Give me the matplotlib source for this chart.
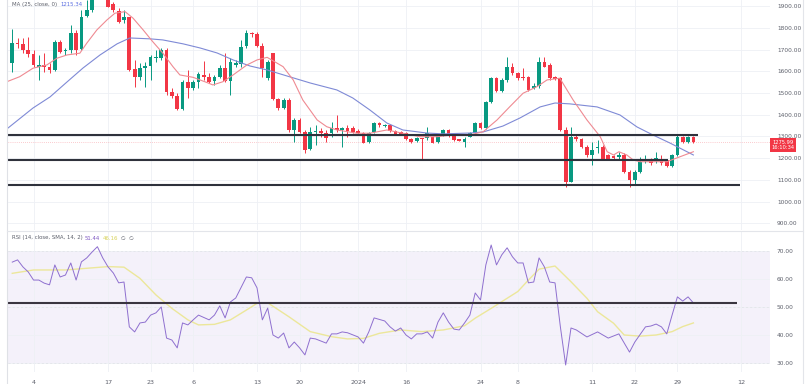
import matplotlib
matplotlib.use("Agg")
import matplotlib.pyplot as plt
import matplotlib.transforms as mtransforms
import numpy as np

W, H = 807, 384

# daily candles (prices)
opens = [1637, 1729, 1724, 1698, 1680, 1621, 1629, 1621, 1606, 1736,
         1693, 1698, 1775, 1701, 1854, 1882, 1935, 1985, 1945, 1910,
         1877, 1836, 1848, 1609, 1575, 1615, 1624, 1660, 1660, 1698,
         1506, 1488, 1425, 1552, 1522, 1552, 1583, 1575, 1555, 1575,
         1614, 1555, 1629, 1632, 1716, 1775, 1772, 1716, 1568, 1683,
         1471, 1430, 1468, 1330, 1376, 1322, 1241, 1322, 1325, 1315,
         1315, 1338, 1330, 1338, 1338, 1325, 1315, 1276, 1322, 1361,
         1350, 1353, 1327, 1322, 1315, 1287, 1280, 1292, 1292, 1296,
         1276, 1307, 1330, 1307, 1287, 1276, 1299, 1315, 1361, 1338,
         1460, 1568, 1511, 1560, 1621, 1591, 1575, 1575, 1522, 1530,
         1644, 1629, 1572, 1568, 1330, 1093, 1299, 1287, 1253, 1215,
         1246, 1253, 1215, 1210, 1207, 1215, 1138, 1100, 1138, 1186,
         1186, 1192, 1192, 1192, 1165, 1215, 1296, 1276, 1296]
highs = [1793, 1752, 1752, 1759, 1698, 1675, 1683, 1637, 1744, 1744,
         1706, 1813, 1790, 1882, 1928, 1950, 2000, 2010, 1955, 1920,
         1890, 1882, 1850, 1652, 1637, 1644, 1675, 1698, 1706, 1706,
         1522, 1499, 1560, 1606, 1560, 1598, 1649, 1591, 1583, 1629,
         1683, 1660, 1652, 1744, 1790, 1782, 1782, 1729, 1652, 1685,
         1475, 1475, 1475, 1384, 1385, 1330, 1345, 1353, 1338, 1330,
         1368, 1399, 1345, 1353, 1348, 1335, 1322, 1322, 1365, 1365,
         1358, 1358, 1332, 1327, 1320, 1292, 1296, 1295, 1345, 1300,
         1312, 1335, 1336, 1310, 1290, 1299, 1320, 1365, 1365, 1465,
         1575, 1575, 1568, 1667, 1637, 1598, 1614, 1580, 1545, 1667,
         1667, 1637, 1578, 1572, 1345, 1345, 1305, 1292, 1261, 1276,
         1284, 1261, 1220, 1215, 1230, 1223, 1146, 1146, 1207, 1215,
         1200, 1230, 1215, 1195, 1220, 1305, 1300, 1300, 1300]
lows = [1598, 1706, 1683, 1667, 1621, 1560, 1598, 1591, 1603, 1683,
        1675, 1683, 1675, 1698, 1851, 1874, 1930, 1940, 1894, 1874,
        1821, 1821, 1603, 1526, 1560, 1526, 1560, 1644, 1652, 1491,
        1476, 1422, 1422, 1476, 1514, 1522, 1560, 1545, 1537, 1568,
        1552, 1491, 1621, 1621, 1706, 1759, 1713, 1575, 1560, 1468,
        1422, 1425, 1322, 1276, 1315, 1223, 1238, 1261, 1299, 1276,
        1299, 1322, 1253, 1299, 1315, 1312, 1268, 1272, 1318, 1345,
        1345, 1322, 1307, 1307, 1284, 1272, 1276, 1192, 1284, 1268,
        1272, 1304, 1298, 1280, 1278, 1253, 1296, 1312, 1335, 1335,
        1455, 1505, 1505, 1552, 1585, 1560, 1562, 1510, 1518, 1522,
        1618, 1562, 1560, 1325, 1070, 1090, 1280, 1248, 1207, 1169,
        1223, 1192, 1190, 1195, 1195, 1131, 1070, 1077, 1131, 1177,
        1169, 1180, 1169, 1160, 1160, 1210, 1272, 1272, 1272]
closes = [1729, 1724, 1698, 1680, 1629, 1629, 1621, 1606, 1736, 1690,
          1698, 1775, 1698, 1851, 1882, 1935, 1985, 1950, 1897, 1882,
          1828, 1848, 1606, 1575, 1614, 1624, 1664, 1664, 1698, 1506,
          1488, 1425, 1552, 1522, 1552, 1588, 1575, 1552, 1575, 1617,
          1555, 1644, 1637, 1713, 1775, 1769, 1716, 1614, 1644, 1471,
          1430, 1468, 1330, 1376, 1322, 1238, 1322, 1325, 1315, 1292,
          1338, 1330, 1338, 1327, 1322, 1315, 1272, 1318, 1361, 1353,
          1353, 1327, 1312, 1312, 1287, 1276, 1292, 1287, 1315, 1272,
          1307, 1330, 1302, 1284, 1281, 1287, 1315, 1361, 1338, 1460,
          1568, 1511, 1560, 1621, 1591, 1568, 1568, 1514, 1530, 1644,
          1621, 1568, 1566, 1330, 1093, 1299, 1287, 1253, 1215, 1238,
          1253, 1195, 1195, 1200, 1215, 1138, 1100, 1138, 1184, 1195,
          1180, 1200, 1177, 1165, 1215, 1299, 1276, 1296, 1276]

# short moving average (red) and MA 25 (blue), sampled at candle index
ma_fast_idx = [-1, 1.4, 3.9, 6.5, 8.4, 10.3, 12.7, 14, 15.9, 17.8, 19.3, 21.2,
               22.7, 24.6, 26.4, 28.3, 30.2, 31.5, 34, 36.6, 37.7, 39.6, 41.5,
               44.1, 46, 47.9, 50.9, 52.8, 54.6, 57.3, 59.1, 61, 64.8, 67.2,
               70.4, 73.4, 76.6, 79.8, 82.8, 86, 88.5, 91.1, 93.5, 96, 98.6,
               100.5, 102.9, 105.4, 108, 110.5, 111.8, 113, 114, 115.5, 116.7,
               118, 123, 125.5, 128]
ma_fast_val = [1552, 1575, 1614, 1629, 1660, 1675, 1683, 1729, 1790, 1836, 1867, 1874,
               1844, 1790, 1736, 1683, 1621, 1583, 1572, 1548, 1537, 1552, 1583,
               1629, 1652, 1664, 1621, 1560, 1468, 1376, 1345, 1330, 1315, 1315,
               1330, 1315, 1299, 1299, 1307, 1307, 1322, 1376, 1437, 1499, 1529,
               1560, 1568, 1468, 1376, 1299, 1230, 1215, 1230, 1215, 1192,
               1184, 1184, 1207, 1230]
ma_slow_idx = [-1, 3.9, 7.1, 10.3, 13.3, 16.5, 19.7, 22.1, 25.9, 28.3, 32.1, 35.3,
               38.5, 41.5, 44.7, 47.9, 52.2, 56, 61, 64, 67.2, 70.4, 73.4, 77.9,
               81, 86, 88.5, 92.2, 95.4, 99.2, 102, 104.8, 109.9, 114.2, 117.4,
               120.4, 123.6, 128]
ma_slow_val = [1335, 1431, 1482, 1551, 1615, 1675, 1726, 1753, 1749, 1744, 1726, 1707,
               1684, 1652, 1624, 1606, 1574, 1546, 1514, 1477, 1422, 1362, 1330, 1316,
               1312, 1316, 1321, 1348, 1385, 1436, 1454, 1450, 1436, 1399, 1344,
               1307, 1270, 1215]

# RSI (14) and its SMA (14)
rsi_idx = [0, 1, 2, 3, 4, 5, 6, 7, 8, 9, 10, 11, 12, 13, 14, 15, 16, 17, 18, 19,
           20, 21, 22, 23, 24, 25, 26, 27, 28, 29, 30, 31, 32, 33, 34, 35, 37, 38,
           39, 40, 41, 42, 44, 45, 46, 47, 48, 49, 50, 51, 52, 53, 54, 55, 56, 57,
           59, 60, 61, 62, 63, 65, 66, 67, 68, 70, 71, 72, 73, 74, 75, 76, 77, 78,
           79, 80, 81, 82, 83, 84, 85, 86, 87, 88, 89, 90, 91, 92, 93, 94, 95, 96,
           97, 98, 99, 100, 101, 102, 103, 104, 105, 106, 108, 110, 112, 114, 116,
           117, 119, 120, 121, 122, 123, 124, 125, 126, 127, 128]
rsi_val = [66, 66.8, 64.3, 62.5, 59.6, 59.6, 58.5, 57.9, 65, 60.7, 61.4, 65.7,
           59.6, 66.1, 67.5, 69.6, 71.5, 67.5, 64.3, 62.1, 58.6, 58.9, 42.9, 41.1,
           44.3, 44.6, 47.1, 47.9, 50, 38.9, 38.2, 35.4, 44.3, 43.6, 45.4, 47.1,
           45.4, 47.1, 50.4, 46.1, 51.8, 53.2, 60.7, 60.4, 56.8, 45.4, 49.6, 40,
           38.9, 40.7, 35.4, 37.5, 35.4, 32.9, 38.9, 38.6, 37.1, 40.4, 40.4, 41.1,
           40.8, 39.3, 37.1, 41.1, 46.1, 45, 42.9, 41.4, 42.5, 40, 38.6, 40.4, 40.4,
           41.1, 38.9, 44.6, 47.9, 44.6, 42.1, 41.8, 44.3, 47.1, 55, 52.5, 65, 72.1,
           65, 68.6, 71.1, 67.9, 65.7, 65.7, 58.6, 58.9, 67.5, 64.3, 58.9, 58.6, 43,
           29.3, 42.5, 41.8, 39.3, 41.1, 38.9, 40.4, 33.9, 37.5, 42.9, 43.2, 43.9,
           42.9, 40.4, 47.1, 53.6, 52.1, 53.6, 51.44]
sig_idx = [0, 4, 10, 14, 18, 21, 24, 27, 30, 33, 35, 38, 41, 44, 46, 48, 52, 56,
           60, 63, 66, 69, 73, 77, 81, 85, 87, 90, 92, 95, 97, 99, 102, 105, 108,
           110, 113, 115, 118, 121, 124, 126, 128]
sig_val = [62, 63.2, 63.2, 63.8, 64.4, 64.2, 60.2, 54.3, 49.5, 45.4, 43.6, 43.8,
           45.4, 48.9, 51.3, 51.5, 46.5, 41.2, 39.4, 38.6, 38.8, 40.6, 41.8, 41.2,
           41.8, 43.3, 46, 49.5, 51.9, 55.5, 59.6, 63.5, 64.6, 59, 53.1, 48.3,
           44.2, 40, 39.6, 40, 41.2, 43, 44.3]

# drawn horizontal levels
levels = [1309, 1190, 1075]
level_ends = [128.9, 123.3, 136.8]
rsi_level = 51.5
rsi_level_end = 136.2

last_price = 1275.99
last_time = "16:10:34"
ma_value = "1215.34"
rsi_value = "51.44"
sig_value = "46.16"

price_ticks = [900, 1000, 1100, 1200, 1300, 1400, 1500, 1600, 1700, 1800, 1900]
rsi_ticks = [30, 40, 50, 60, 70]
date_ticks = [4, 18, 26, 34, 46, 54, 65, 74, 88, 95, 109, 117, 125, 137]
date_labels = ["4", "17", "23", "6", "13", "20", "2024", "16", "24", "8",
               "11", "22", "29", "12"]

GREEN = "#089981"
RED = "#f23645"
GRID = "#eef0f5"
TXT = "#5d606b"


def fx(x):
    return x / W


def fy(y):
    return 1 - y / H


def main():
    fig = plt.figure(figsize=(W / 100, H / 100), dpi=100)
    fig.patch.set_facecolor("white")

    ax = fig.add_axes([fx(8), fy(230), (770 - 8) / W, 230 / H])
    ax2 = fig.add_axes([fx(8), fy(372), (770 - 8) / W, (372 - 231) / H])
    xlim = (-0.8, 142.4)

    # ---- price pane
    idx = np.arange(len(opens))
    o = np.array(opens)
    c = np.array(closes)
    cols = np.where(c >= o, GREEN, RED)
    ax.vlines(idx, lows, highs, colors=cols, lw=0.7, zorder=3)
    ax.bar(idx, np.maximum(np.abs(c - o), 3), bottom=np.minimum(o, c),
           width=0.7, color=cols, lw=0, zorder=4)

    ax.plot(ma_slow_idx, ma_slow_val, color="#7f8ad6", lw=0.8, zorder=5)
    ax.plot(ma_fast_idx, ma_fast_val, color="#ef8a92", lw=0.8, zorder=5)

    for lv, end in zip(levels, level_ends):
        ax.hlines(lv, xlim[0], end, color="#2f323c", lw=1.5, zorder=6)
    ax.axhline(last_price, color=RED, lw=0.5, ls=(0, (1, 2)), alpha=0.5, zorder=2)

    ax.set_xlim(*xlim)
    ax.set_ylim(870.1, 1927.6)
    ax.set_yticks(price_ticks)
    ax.set_yticklabels([f"{v:.2f}" for v in price_ticks])
    ax.set_xticks(date_ticks)
    ax.yaxis.tick_right()
    ax.tick_params(axis="y", length=0, pad=5, labelsize=4.2, labelcolor=TXT)
    ax.tick_params(axis="x", length=0, labelbottom=False)
    ax.grid(True, color=GRID, lw=0.6, zorder=0)
    for s in ax.spines.values():
        s.set_visible(False)

    # ---- RSI pane
    ax2.axhspan(30, 70, color="#7e57c2", alpha=0.08, lw=0, zorder=0)
    for lv in (30, 50, 70):
        ax2.axhline(lv, color="#9598a1", lw=0.5, ls=(0, (3, 3)), zorder=1)
    ax2.plot(sig_idx, sig_val, color="#ece79a", lw=1.0, zorder=3)
    ax2.plot(rsi_idx, rsi_val, color="#8e6fcf", lw=0.7, zorder=4)
    ax2.hlines(rsi_level, xlim[0], rsi_level_end, color="#3a3540", lw=1.5, zorder=5)

    ax2.set_xlim(*xlim)
    ax2.set_ylim(26.8, 77.1)
    ax2.set_yticks(rsi_ticks)
    ax2.set_yticklabels([f"{v:.2f}" for v in rsi_ticks])
    ax2.set_xticks(date_ticks)
    ax2.yaxis.tick_right()
    ax2.tick_params(axis="y", length=0, pad=5, labelsize=4.2, labelcolor=TXT)
    ax2.tick_params(axis="x", length=0, labelbottom=False)
    ax2.grid(True, color=GRID, lw=0.6, zorder=0)
    for s in ax2.spines.values():
        s.set_visible(False)

    # date labels, mostly cut off by the bottom edge
    trans = mtransforms.blended_transform_factory(ax2.transData, fig.transFigure)
    for t, lab in zip(date_ticks, date_labels):
        ax2.text(t, fy(380.5), lab, transform=trans, ha="center", va="top",
                 fontsize=4.6, color=TXT, clip_on=False)

    # legends
    fig.text(fx(12), fy(4.5), "MA (25, close, 0)", fontsize=3.9, color=TXT, va="center")
    fig.text(fx(60), fy(4.5), ma_value, fontsize=3.9, color="#5b6ee1", va="center")
    fig.text(fx(12), fy(238), "RSI (14, close, SMA, 14, 2)", fontsize=3.9,
             color=TXT, va="center")
    fig.text(fx(85), fy(238), rsi_value, fontsize=3.9, color="#7e57c2", va="center")
    fig.text(fx(103), fy(238), sig_value, fontsize=3.9, color="#d8d25a", va="center")
    fig.text(fx(121), fy(238), "\u2205  \u2205", fontsize=3.9, color=TXT, va="center")

    # last price tag
    fig.text(fx(783), fy(145), f"{last_price:.2f}\n{last_time}", fontsize=3.7,
             color="white", ha="center", va="center", linespacing=1.15,
             bbox=dict(boxstyle="square,pad=0.35", fc=RED, ec="none"), zorder=10)

    # frame lines
    fig.add_artist(plt.Line2D([fx(7), fx(7)], [0, 1], color="#dfe1e6", lw=0.8))
    fig.add_artist(plt.Line2D([fx(803), fx(803)], [0, 1], color="#e3e5ea", lw=0.8))
    fig.add_artist(plt.Line2D([fx(7), fx(803)], [fy(230.5), fy(230.5)],
                              color="#e3e5ea", lw=0.8))

    fig.savefig("out.png", dpi=100, facecolor="white")


if __name__ == "__main__":
    main()
